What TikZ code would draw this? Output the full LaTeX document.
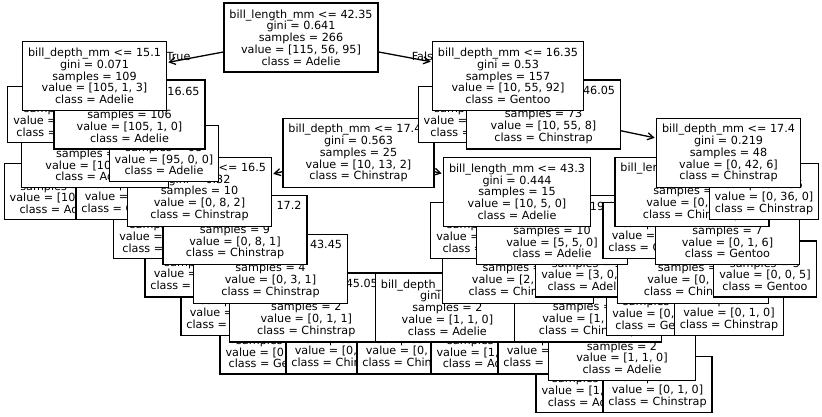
\documentclass[tikz,border=0pt]{standalone}
\usepackage{fontspec}
\usetikzlibrary{arrows.meta}
\newfontfamily\treefont{DejaVu Sans}
\begin{document}
\begin{tikzpicture}[x=1pt,y=-1pt,
  split/.style={draw=black, fill=white, line width=1.3pt, align=center,
    inner xsep=5.5pt, inner ysep=0pt, minimum height=69pt,
    font=\treefont\fontsize{11.2}{11.75}\selectfont},
  leaf/.style={split, minimum height=56pt},
  edge/.style={line width=1.3pt, shorten <=1.2pt, {Straight Barb[length=6pt,width=7pt]}-},
  lbl/.style={inner sep=0pt, font=\treefont\fontsize{11.2}{11.75}\selectfont}]
\fill[white] (0,0) rectangle (822,417);
\useasboundingbox (0,0) rectangle (822,417);
% node centres (x per node, y per depth)
\coordinate (c0) at (301,37.5);
\coordinate (c1) at (94.5,76.06);   \coordinate (c2) at (508,76.06);
\coordinate (c3) at (59,114.62);    \coordinate (c4) at (129.5,114.62);
\coordinate (c5) at (473,114.62);   \coordinate (c6) at (543.5,114.62);
\coordinate (c7) at (94.75,153.18); \coordinate (c8) at (164,153.18);
\coordinate (c9) at (358.5,153.18); \coordinate (c10) at (728.5,153.18);
\coordinate (c11) at (59,191.74);   \coordinate (c12) at (130.5,191.74);
\coordinate (c13) at (199.5,191.74);\coordinate (c14) at (517,191.74);
\coordinate (c15) at (692,191.74);  \coordinate (c16) at (764,191.74);
\coordinate (c17) at (165,230.3);   \coordinate (c18) at (235,230.3);
\coordinate (c19) at (482,230.3);   \coordinate (c20) at (552,230.3);
\coordinate (c21) at (657.5,230.3); \coordinate (c22) at (727.5,230.3);
\coordinate (c23) at (199.5,268.86);\coordinate (c24) at (270.5,268.86);
\coordinate (c25) at (517.7,268.86);\coordinate (c26) at (587,268.86);
\coordinate (c27) at (693,268.86);  \coordinate (c28) at (765,268.86);
\coordinate (c29) at (235.5,307.42);\coordinate (c30) at (306.3,307.42);
\coordinate (c31) at (447.4,307.42);\coordinate (c32) at (588,307.42);
\coordinate (c33) at (658,307.42);  \coordinate (c34) at (729,307.42);
\coordinate (c35) at (271.25,345.98);\coordinate (c36) at (340.5,345.98);
\coordinate (c37) at (411.5,345.98);\coordinate (c38) at (482.25,345.98);
\coordinate (c39) at (552.5,345.98);\coordinate (c40) at (622,345.98);
\coordinate (c41) at (587.25,384.54);\coordinate (c42) at (657.5,384.54);

% edge labels of the root split
\node[lbl, anchor=east] (ltrue) at (190.6,56.5) {True};
\node[lbl, anchor=west] (lfalse) at (411.6,56.5) {False};

% depth 9
\node[leaf] (n41) at (c41) {gini = 0.0\\samples = 1\\value = [1, 0, 0]\\class = Adelie};
\draw[edge] (n41) -- (c40);
\node[leaf] (n42) at (c42) {gini = 0.0\\samples = 1\\value = [0, 1, 0]\\class = Chinstrap};
\draw[edge] (n42) -- (c40);
% depth 8
\node[leaf] (n35) at (c35) {gini = 0.0\\samples = 1\\value = [0, 0, 1]\\class = Gentoo};
\draw[edge] (n35) -- (c30);
\node[leaf] (n36) at (c36) {gini = 0.0\\samples = 1\\value = [0, 1, 0]\\class = Chinstrap};
\draw[edge] (n36) -- (c30);
\node[leaf] (n37) at (c37) {gini = 0.0\\samples = 1\\value = [0, 1, 0]\\class = Chinstrap};
\draw[edge] (n37) -- (c31);
\node[leaf] (n38) at (c38) {gini = 0.0\\samples = 1\\value = [1, 0, 0]\\class = Adelie};
\draw[edge] (n38) -- (c31);
\node[leaf] (n39) at (c39) {gini = 0.0\\samples = 3\\value = [0, 3, 0]\\class = Chinstrap};
\draw[edge] (n39) -- (c32);
\node[split] (n40) at (c40) {bill\_length\_mm <= 48.2\\gini = 0.5\\samples = 2\\value = [1, 1, 0]\\class = Adelie};
\draw[edge] (n40) -- (c32);
% depth 7
\node[leaf] (n29) at (c29) {gini = 0.0\\samples = 2\\value = [0, 2, 0]\\class = Chinstrap};
\draw[edge] (n29) -- (c24);
\node[split] (n30) at (c30) {bill\_length\_mm <= 45.05\\gini = 0.5\\samples = 2\\value = [0, 1, 1]\\class = Chinstrap};
\draw[edge] (n30) -- (c24);
\node[split] (n31) at (c31) {bill\_depth\_mm <= 18.3\\gini = 0.5\\samples = 2\\value = [1, 1, 0]\\class = Adelie};
\draw[edge] (n31) -- (c25);
\node[split] (n32) at (c32) {bill\_length\_mm <= 47.4\\gini = 0.32\\samples = 5\\value = [1, 4, 0]\\class = Chinstrap};
\draw[edge] (n32) -- (c25);
\node[leaf] (n33) at (c33) {gini = 0.0\\samples = 1\\value = [0, 0, 1]\\class = Gentoo};
\draw[edge] (n33) -- (c27);
\node[leaf] (n34) at (c34) {gini = 0.0\\samples = 1\\value = [0, 1, 0]\\class = Chinstrap};
\draw[edge] (n34) -- (c27);
% depth 6
\node[leaf] (n23) at (c23) {gini = 0.0\\samples = 5\\value = [0, 5, 0]\\class = Chinstrap};
\draw[edge] (n23) -- (c18);
\node[split] (n24) at (c24) {bill\_length\_mm <= 43.45\\gini = 0.375\\samples = 4\\value = [0, 3, 1]\\class = Chinstrap};
\draw[edge] (n24) -- (c18);
\node[split] (n25) at (c25) {bill\_depth\_mm <= 18.65\\gini = 0.408\\samples = 7\\value = [2, 5, 0]\\class = Chinstrap};
\draw[edge] (n25) -- (c20);
\node[leaf] (n26) at (c26) {gini = 0.0\\samples = 3\\value = [3, 0, 0]\\class = Adelie};
\draw[edge] (n26) -- (c20);
\node[split] (n27) at (c27) {bill\_depth\_mm <= 16.75\\gini = 0.5\\samples = 2\\value = [0, 1, 1]\\class = Chinstrap};
\draw[edge] (n27) -- (c22);
\node[leaf] (n28) at (c28) {gini = 0.0\\samples = 5\\value = [0, 0, 5]\\class = Gentoo};
\draw[edge] (n28) -- (c22);
% depth 5
\node[leaf] (n17) at (c17) {gini = 0.0\\samples = 1\\value = [0, 0, 1]\\class = Gentoo};
\draw[edge] (n17) -- (c13);
\node[split] (n18) at (c18) {bill\_depth\_mm <= 17.2\\gini = 0.198\\samples = 9\\value = [0, 8, 1]\\class = Chinstrap};
\draw[edge] (n18) -- (c13);
\node[leaf] (n19) at (c19) {gini = 0.0\\samples = 5\\value = [5, 0, 0]\\class = Adelie};
\draw[edge] (n19) -- (c14);
\node[split] (n20) at (c20) {bill\_depth\_mm <= 19.15\\gini = 0.5\\samples = 10\\value = [5, 5, 0]\\class = Adelie};
\draw[edge] (n20) -- (c14);
\node[leaf] (n21) at (c21) {gini = 0.0\\samples = 5\\value = [0, 5, 0]\\class = Chinstrap};
\draw[edge] (n21) -- (c15);
\node[split] (n22) at (c22) {bill\_depth\_mm <= 16.9\\gini = 0.245\\samples = 7\\value = [0, 1, 6]\\class = Gentoo};
\draw[edge] (n22) -- (c15);
% depth 4
\node[leaf] (n11) at (c11) {gini = 0.0\\samples = 10\\value = [10, 0, 0]\\class = Adelie};
\draw[edge] (n11) -- (c7);
\node[leaf] (n12) at (c12) {gini = 0.0\\samples = 1\\value = [0, 1, 0]\\class = Chinstrap};
\draw[edge] (n12) -- (c7);
\node[split] (n13) at (c13) {bill\_depth\_mm <= 16.5\\gini = 0.32\\samples = 10\\value = [0, 8, 2]\\class = Chinstrap};
\draw[edge] (n13) -- (c9);
\node[split] (n14) at (c14) {bill\_length\_mm <= 43.3\\gini = 0.444\\samples = 15\\value = [10, 5, 0]\\class = Adelie};
\draw[edge] (n14) -- (c9);
\node[split] (n15) at (c15) {bill\_length\_mm <= 50.35\\gini = 0.5\\samples = 12\\value = [0, 6, 6]\\class = Chinstrap};
\draw[edge] (n15) -- (c10);
\node[leaf] (n16) at (c16) {gini = 0.0\\samples = 36\\value = [0, 36, 0]\\class = Chinstrap};
\draw[edge] (n16) -- (c10);
% depth 3
\node[split] (n7) at (c7) {bill\_length\_mm <= 40.8\\gini = 0.165\\samples = 11\\value = [10, 1, 0]\\class = Adelie};
\draw[edge] (n7) -- (c4);
\node[leaf] (n8) at (c8) {gini = 0.0\\samples = 95\\value = [95, 0, 0]\\class = Adelie};
\draw[edge] (n8) -- (c4);
\node[split] (n9) at (c9) {bill\_depth\_mm <= 17.45\\gini = 0.563\\samples = 25\\value = [10, 13, 2]\\class = Chinstrap};
\draw[edge] (n9) -- (c6);
\node[split] (n10) at (c10) {bill\_depth\_mm <= 17.4\\gini = 0.219\\samples = 48\\value = [0, 42, 6]\\class = Chinstrap};
\draw[edge] (n10) -- (c6);
% depth 2
\node[leaf] (n3) at (c3) {gini = 0.0\\samples = 3\\value = [0, 0, 3]\\class = Gentoo};
\draw[edge] (n3) -- (c1);
\node[split] (n4) at (c4) {bill\_depth\_mm <= 16.65\\gini = 0.019\\samples = 106\\value = [105, 1, 0]\\class = Adelie};
\draw[edge] (n4) -- (c1);
\node[leaf] (n5) at (c5) {gini = 0.0\\samples = 84\\value = [0, 0, 84]\\class = Gentoo};
\draw[edge] (n5) -- (c2);
\node[split] (n6) at (c6) {bill\_length\_mm <= 46.05\\gini = 0.402\\samples = 73\\value = [10, 55, 8]\\class = Chinstrap};
\draw[edge] (n6) -- (c2);
% depth 1
\node[split] (n1) at (c1) {bill\_depth\_mm <= 15.1\\gini = 0.071\\samples = 109\\value = [105, 1, 3]\\class = Adelie};
\draw[edge] (n1) -- (c0);
\node[split] (n2) at (c2) {bill\_depth\_mm <= 16.35\\gini = 0.53\\samples = 157\\value = [10, 55, 92]\\class = Gentoo};
\draw[edge] (n2) -- (c0);
% root
\node[split] (n0) at (c0) {bill\_length\_mm <= 42.35\\gini = 0.641\\samples = 266\\value = [115, 56, 95]\\class = Adelie};
\end{tikzpicture}
\end{document}
